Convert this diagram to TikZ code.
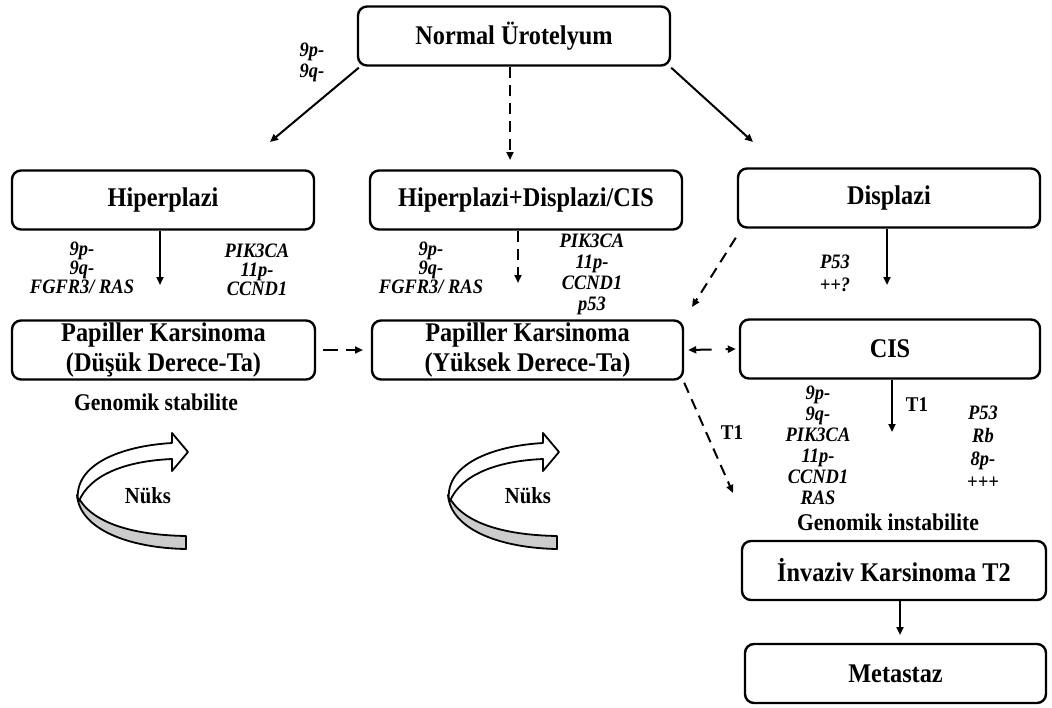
\documentclass[tikz,border=0pt]{standalone}
\usepackage{fontspec}
\setmainfont[FakeStretch=0.9]{Liberation Serif}
\usetikzlibrary{arrows.meta,calc}

\begin{document}
\begin{tikzpicture}[x=1pt,y=-1pt,
  box/.style={draw,line width=2.4pt,rounded corners=9pt,minimum width=#1,
    minimum height=59pt,inner sep=0pt,align=center,
    font=\fontsize{27}{30}\selectfont\bfseries},
  lab/.style={inner sep=0pt,align=center,
    font=\fontsize{20.5}{#1}\selectfont\bfseries\itshape},
  note/.style={inner sep=0pt,font=\fontsize{#1}{#1}\selectfont\bfseries},
  tip/.style={-{Triangle[length=8pt,width=7pt]}},
  arr/.style={line width=2pt,tip},
  dsh/.style={arr,dash pattern=on 11pt off 7pt},
  ribbon/.style={draw,line width=1.8pt,line join=round}]

\useasboundingbox (0,0) rectangle (1052,707);

% stages
\node[box=312pt] (norm) at (514,36) {Normal Ürotelyum};
\node[box=302pt] (hip) at (163,200) {Hiperplazi};
\node[box=312pt] (hds) at (526,200) {Hiperplazi+Displazi/CIS};
\node[box=302pt] (dis) at (889,198) {Displazi};
\node[box=303pt] (pkd) at (163.5,350) {Papiller Karsinoma\\(Düşük Derece-Ta)};
\node[box=311pt] (pky) at (527.5,350) {Papiller Karsinoma\\(Yüksek Derece-Ta)};
\node[box=300pt] (cis) at (890,349) {CIS};
\node[box=304pt] (inv) at (894,570.5) {İnvaziv Karsinoma T2};
\node[box=301pt] (met) at (895.5,673.5) {Metastaz};

% free arrow ends
\coordinate (t1) at (270,142);
\coordinate (t2) at (510,160);
\coordinate (t3) at (753,142);
\coordinate (t4) at (160,285);
\coordinate (t5) at (518,283);
\coordinate (t6) at (887,285);
\coordinate (t7) at (692,307);
\coordinate (t8) at (363,350);
\coordinate (t9) at (733,493);
\coordinate (t10) at (892,432);
\coordinate (t11) at (900,635);

% connectors
\draw[arr] ($(norm.south west)+(2,1)$) -- (t1);
\draw[dsh] ($(norm.south)+(-4,0)$) -- (t2);
\draw[arr] ($(norm.south east)+(0,1)$) -- (t3);
\draw[arr] ($(hip.south)+(-3,0)$) -- (t4);
\draw[dsh] ($(hds.south)+(-8,0)$) -- (t5);
\draw[arr] ($(dis.south)+(-2,0)$) -- (t6);
\draw[dsh] ($(dis.south west)+(-1,9)$) -- (t7);
\draw[dsh,dash pattern=on 15pt off 8pt] ($(pkd.east)+(7,0)$) -- (t8);
\draw[line width=2pt,{Triangle[length=8pt,width=7pt]}-{Triangle[length=8pt,width=7pt]},
      dash pattern=on 16pt off 14pt] ($(pky.east)+(4,0)$) -- ($(cis.west)+(-3,0)$);
\draw[dsh] ($(pky.south east)+(0,2)$) -- (t9);
\draw[arr] ($(cis.south)+(2,0)$) -- (t10);
\draw[arr] ($(inv.south)+(6,0)$) -- (t11);

% genetic changes
\node[lab=21] (g0) at (312,62) {9p-\\9q-};
\node[lab=19] (g1) at (82,268) {9p-\\9q-\\FGFR3/ RAS};
\node[lab=19] (g2) at (257,270) {PIK3CA\\11p-\\CCND1};
\node[lab=19] (g3) at (431,268) {9p-\\9q-\\FGFR3/ RAS};
\node[lab=21] (g4) at (592,274) {PIK3CA\\11p-\\CCND1\\p53};
\node[lab=23] (g5) at (835,273) {P53\\++?};
\node[lab=21] (g6) at (818,445) {9p-\\9q-\\PIK3CA\\11p-\\CCND1\\RAS};
\node[lab=23] (g7) at (983,447) {P53\\Rb\\8p-\\+++};

\node[note=24] (gs) at (156,402) {Genomik stabilite};
\node[note=24] (gi) at (888,522) {Genomik instabilite};
\node[note=21] (tA) at (732,433) {T1};
\node[note=21] (tB) at (917,405) {T1};

% recurrence arrows
\foreach \dx in {0,371}{
  \begin{scope}[xshift=\dx]
    \path[ribbon,fill=black!20]
      (77,495) .. controls (80,530) and (130,548) .. (186,549)
      -- (186,536) .. controls (130,535) and (90,522) .. (77,495) -- cycle;
    \path[ribbon,fill=white]
      (78,500) .. controls (74,465) and (120,446) .. (172,443)
      -- (172,433) -- (188,452) -- (172,471) -- (172,459)
      .. controls (125,461) and (90,475) .. (79,501) -- cycle;
  \end{scope}
}
\node[note=23] (nA) at (148,496) {Nüks};
\node[note=23] (nB) at (528,496) {Nüks};

\end{tikzpicture}
\end{document}
